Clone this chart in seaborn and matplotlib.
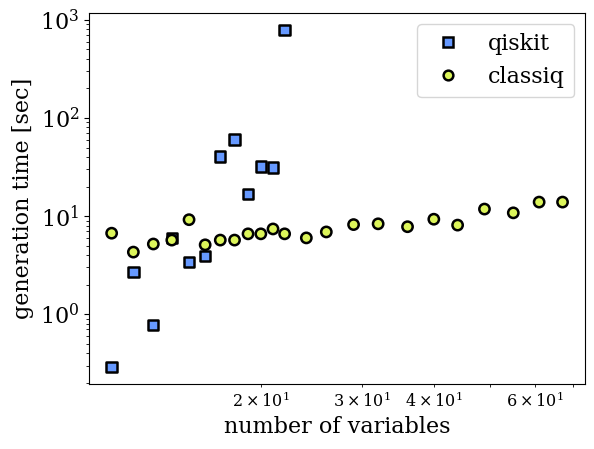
import matplotlib
matplotlib.use("Agg")
import matplotlib.pyplot as plt
import seaborn as sns
import pandas as pd

# qiskit results
qiskit_n = [11, 12, 13, 14, 15, 16, 17, 18, 19, 20, 21, 22]
qiskit_t = [0.29, 2.7, 0.78, 6.0, 3.4, 3.9, 40.5, 60.5, 16.7, 32.0, 31.4, 790]

# classiq results
classiq_n = [11, 12, 13, 14, 15, 16, 17, 18, 19, 20, 21, 22,
             24, 26, 29, 32, 36, 40, 44, 49, 55, 61, 67]
classiq_t = [6.7, 4.3, 5.2, 5.7, 9.2, 5.1, 5.7, 5.7, 6.6, 6.6, 7.4, 6.6,
             6.0, 6.9, 8.2, 8.35, 7.8, 9.3, 8.1, 11.8, 10.8, 13.9, 13.9]

df = pd.concat([
    pd.DataFrame({"n": qiskit_n, "t": qiskit_t, "method": "qiskit"}),
    pd.DataFrame({"n": classiq_n, "t": classiq_t, "method": "classiq"}),
])

sns.set_style("ticks", {"text.color": "black", "axes.labelcolor": "black",
                        "xtick.color": "black", "ytick.color": "black",
                        "axes.edgecolor": "black"})
plt.rcParams["font.family"] = ["DejaVu Serif"]
plt.rcParams["mathtext.fontset"] = "dejavuserif"

fig = plt.figure(figsize=(5.94, 4.49), dpi=100)
ax = fig.add_axes([0.15, 0.145, 0.835, 0.826])

sns.scatterplot(data=df, x="n", y="t", hue="method", style="method",
                markers={"qiskit": "s", "classiq": "o"},
                palette={"qiskit": "#6699ff", "classiq": "#dcf55a"},
                edgecolor="black", linewidth=1.8, ax=ax, zorder=3)
for coll, size in zip(ax.collections, [55, 85]):
    coll.set_sizes([size])

ax.set_xscale("log")
ax.set_yscale("log")
ax.set_xlabel("number of variables", fontsize=16)
ax.set_ylabel("generation time [sec]", fontsize=16)
ax.tick_params(axis="y", which="major", labelsize=16)
ax.tick_params(axis="x", which="both", labelsize=11.5)
for s in ax.spines.values():
    s.set_visible(True)
    s.set_color("black")

leg = ax.legend(fontsize=16, loc="upper right")
for h in leg.legend_handles:
    h.set_markeredgecolor("black")
    h.set_markeredgewidth(1.8)
    h.set_markersize(7)

fig.savefig("out.png", dpi=100)
